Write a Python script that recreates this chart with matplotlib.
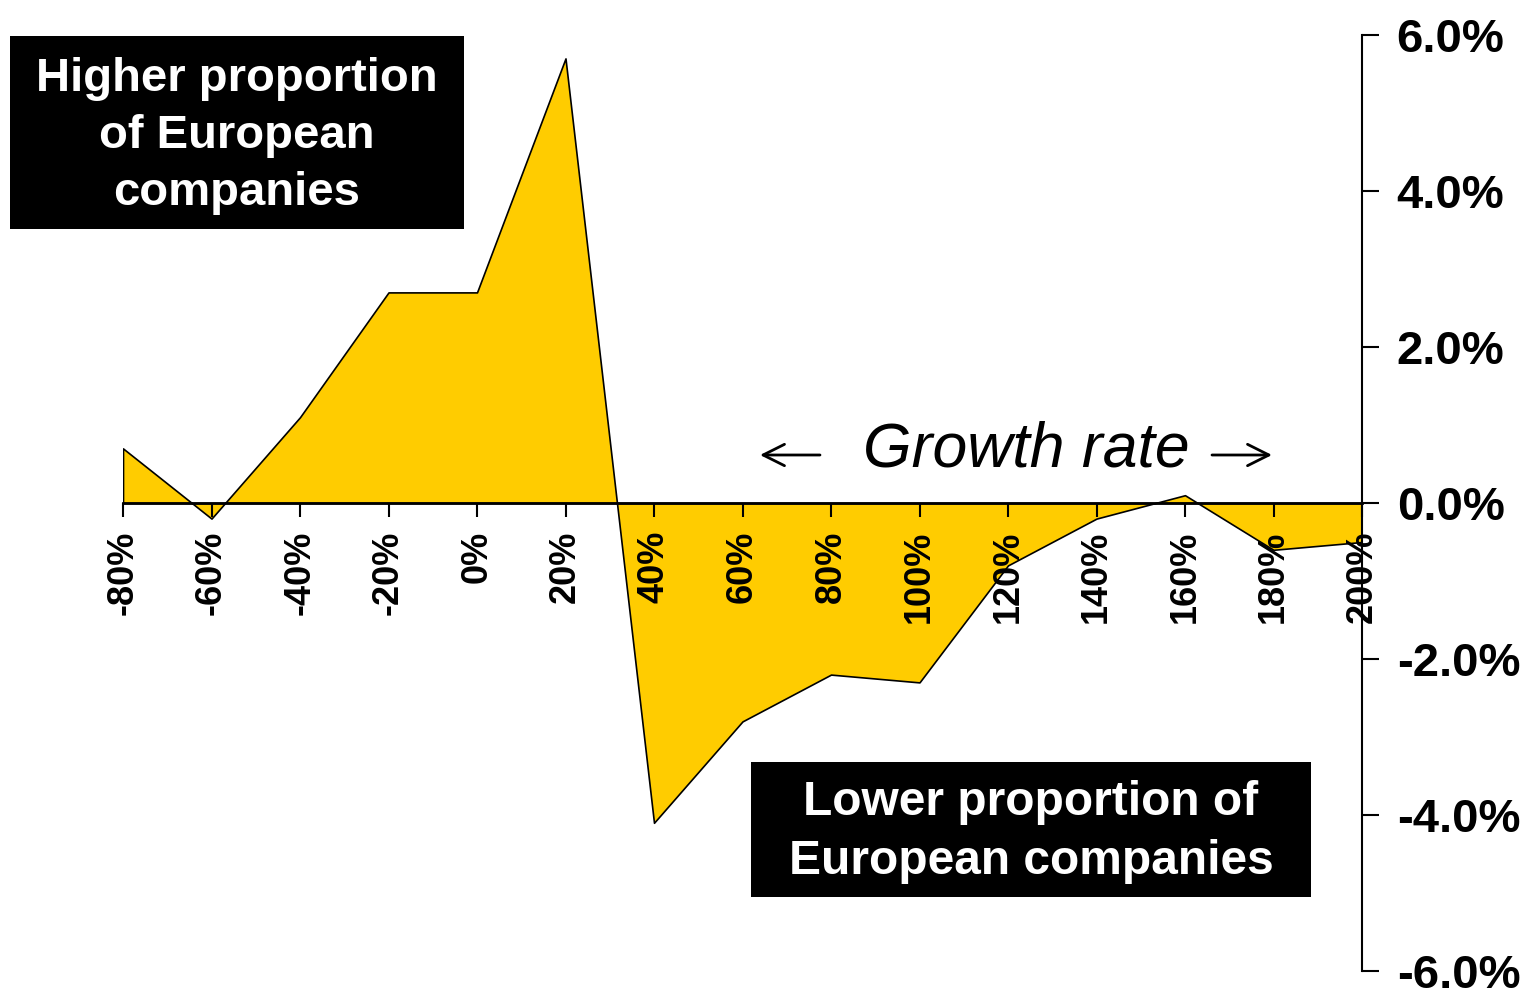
import numpy as np
import matplotlib
matplotlib.use('Agg')
import matplotlib.pyplot as plt
from matplotlib.patches import Rectangle
from matplotlib.ticker import FuncFormatter

# growth-rate buckets (%) and relative difference in proportion (%)
growth_rate = [-80, -60, -40, -20, 0, 20, 40, 60, 80, 100, 120, 140, 160, 180, 200]
difference = [0.7, -0.2, 1.1, 2.7, 2.7, 5.7, -4.1, -2.8, -2.2, -2.3, -0.8, -0.2, 0.1, -0.6, -0.5]
y_ticks = [-6, -4, -2, 0, 2, 4, 6]

plt.rcParams['font.family'] = ['Liberation Sans', 'DejaVu Sans']

W, H = 1531, 991
fig = plt.figure(figsize=(W / 100, H / 100), dpi=100)
ax = fig.add_axes([123 / W, 1 - 971 / H, (1362 - 123) / W, (971 - 35) / H])

ax.fill_between(growth_rate, difference, 0, facecolor='#FFCC00', edgecolor='black', linewidth=1.2)

ax.set_xlim(-80, 200)
ax.set_ylim(-6, 6)

ax.spines['left'].set_visible(False)
ax.spines['top'].set_visible(False)
ax.spines['bottom'].set_position(('data', 0))
ax.spines['bottom'].set_linewidth(2)
ax.spines['right'].set_linewidth(1.5)

ax.yaxis.tick_right()
ax.set_yticks(y_ticks)
ax.yaxis.set_major_formatter(FuncFormatter(lambda v, p: f"{v:.1f}%"))
ax.tick_params(axis='y', direction='out', length=12, width=1.5, pad=13, labelsize=34)
for lbl in ax.get_yticklabels():
    lbl.set_fontweight('bold')

ax.set_xticks(growth_rate)
ax.set_xticklabels([f"{g}%" for g in growth_rate], rotation=90, fontsize=26, fontweight='bold')
ax.tick_params(axis='x', direction='out', length=10, width=1.5, pad=10)


def px(x, y):
    return x / W, 1 - y / H


# "Growth rate" caption with thin direction arrows
fig.text(*px(1026, 450), "Growth rate", fontsize=45, style='italic', ha='center', va='center')
arrow = dict(arrowstyle='->,head_length=0.7,head_width=0.35', lw=2, color='black',
             mutation_scale=22, shrinkA=0, shrinkB=0)
fig.add_artist(matplotlib.patches.FancyArrowPatch(px(820, 455), px(760, 455), transform=fig.transFigure, **arrow))
fig.add_artist(matplotlib.patches.FancyArrowPatch(px(1212, 455), px(1272, 455), transform=fig.transFigure, **arrow))

# black label boxes
for x0, y0, x1, y1 in [(10, 36, 464, 229), (751, 762, 1311, 897)]:
    fig.patches.append(Rectangle(px(x0, y1), (x1 - x0) / W, (y1 - y0) / H,
                                 transform=fig.transFigure, facecolor='black', edgecolor='none'))

fig.text(*px(237, 136), "Higher proportion\nof European\ncompanies", color='white',
         fontsize=34, fontweight='bold', ha='center', va='center', linespacing=1.38)
fig.text(*px(1031, 832), "Lower proportion of\nEuropean companies", color='white',
         fontsize=34.5, fontweight='bold', ha='center', va='center', linespacing=1.38)

fig.savefig('out.png', dpi=100)
